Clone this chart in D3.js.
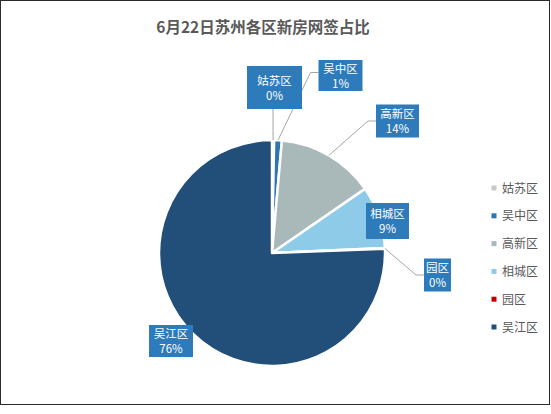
<!DOCTYPE html>
<html>
<head>
<meta charset="utf-8">
<script src="https://cdn.jsdelivr.net/npm/d3@7"></script>
<style>
  body { margin: 0; background: #fff; }
  text { font-family: "Noto Sans CJK SC", "Microsoft YaHei", sans-serif; }
</style>
</head>
<body>
<script>
// data
const categories = ['姑苏区', '吴中区', '高新区', '相城区', '园区', '吴江区'];
const values     = [0.3, 1.1, 14.0, 8.9, 0.1, 75.6];
const labels     = ['0%', '1%', '14%', '9%', '0%', '76%'];
const title      = '6月22日苏州各区新房网签占比';

const colors = ['#c9c9c9', '#2e75b6', '#a9b9b9', '#8dcbe8', '#c00000', '#224e7a'];

// label box layout, offsets from pie centre (box centre), leader type
const labelLayout = [
  { dx: 2.5,   dy: -165.5, w: 55, h: 43, leader: 'down' },
  { dx: 68.5,  dy: -177.5, w: 44, h: 31, leader: 'left' },
  { dx: 125.5, dy: -132,   w: 43, h: 33, leader: 'left' },
  { dx: 115.5, dy: -32,    w: 43, h: 36, leader: null },
  { dx: 165.5, dy: 22,     w: 27, h: 33, leader: 'left' },
  { dx: -101,  dy: 88,     w: 44, h: 32, leader: null },
];

const W = 551, H = 414;
const cx = 272, cy = 253, radius = 113;

const svg = d3.select('body').append('svg')
  .attr('width', W)
  .attr('height', H);

svg.append('rect')
  .attr('x', 0.5).attr('y', 0.5)
  .attr('width', 549).attr('height', 404)
  .attr('fill', '#fff')
  .attr('stroke', '#2b2b2b');

svg.append('text')
  .attr('x', 263).attr('y', 33)
  .attr('text-anchor', 'middle')
  .attr('font-size', 15.5)
  .attr('font-weight', 'bold')
  .attr('fill', '#595959')
  .text(title);

const pie = d3.pie().sort(null).value(d => d);
const arcs = pie(values);

const arc = d3.arc().innerRadius(0).outerRadius(radius);

const g = svg.append('g')
  .attr('transform', 'translate(' + cx + ',' + cy + ')');

g.selectAll('.slice')
  .data(arcs)
  .enter().append('path')
  .attr('class', 'slice')
  .attr('d', arc)
  .attr('fill', (d, i) => colors[i])
  .attr('stroke', '#fff')
  .attr('stroke-width', 2.5)
  .attr('stroke-linejoin', 'round');

// leader lines
const edgePoint = d => {
  const a = (d.startAngle + d.endAngle) / 2;
  return [Math.sin(a) * radius, -Math.cos(a) * radius];
};

arcs.forEach((d, i) => {
  const L = labelLayout[i];
  if (!L.leader) return;
  const p = edgePoint(d);
  let pts;
  if (L.leader === 'down') {
    pts = [[L.dx - 1.5, L.dy + L.h / 2], [p[0], p[1]]];
  } else {
    const bx = L.dx - L.w / 2;
    const by = L.dy + (i === 1 ? -3 : 0);
    pts = [[bx, by], [bx - 8, by], [p[0], p[1]]];
  }
  g.append('path')
    .attr('d', d3.line()(pts))
    .attr('fill', 'none')
    .attr('stroke', '#a6a6a6')
    .attr('stroke-width', 1);
});

// label boxes
arcs.forEach((d, i) => {
  const L = labelLayout[i];
  const lg = g.append('g')
    .attr('transform', 'translate(' + L.dx + ',' + L.dy + ')');
  lg.append('rect')
    .attr('x', -L.w / 2).attr('y', -L.h / 2)
    .attr('width', L.w).attr('height', L.h)
    .attr('fill', '#2e7bbb');
  lg.append('text')
    .attr('text-anchor', 'middle')
    .attr('y', -3)
    .attr('font-size', 11.5)
    .attr('fill', '#fff')
    .text(categories[i]);
  lg.append('text')
    .attr('text-anchor', 'middle')
    .attr('y', 12)
    .attr('font-size', 11.5)
    .attr('fill', '#fff')
    .text(labels[i]);
});

// legend
const legendY = d3.scalePoint()
  .domain(categories)
  .range([188, 327]);

const legend = svg.append('g');
categories.forEach((c, i) => {
  legend.append('rect')
    .attr('x', 491.5).attr('y', legendY(c) - 2.5)
    .attr('width', 5).attr('height', 5)
    .attr('fill', colors[i]);
  legend.append('text')
    .attr('x', 502).attr('y', legendY(c) + 4.5)
    .attr('font-size', 12)
    .attr('fill', '#595959')
    .text(c);
});
</script>
</body>
</html>
